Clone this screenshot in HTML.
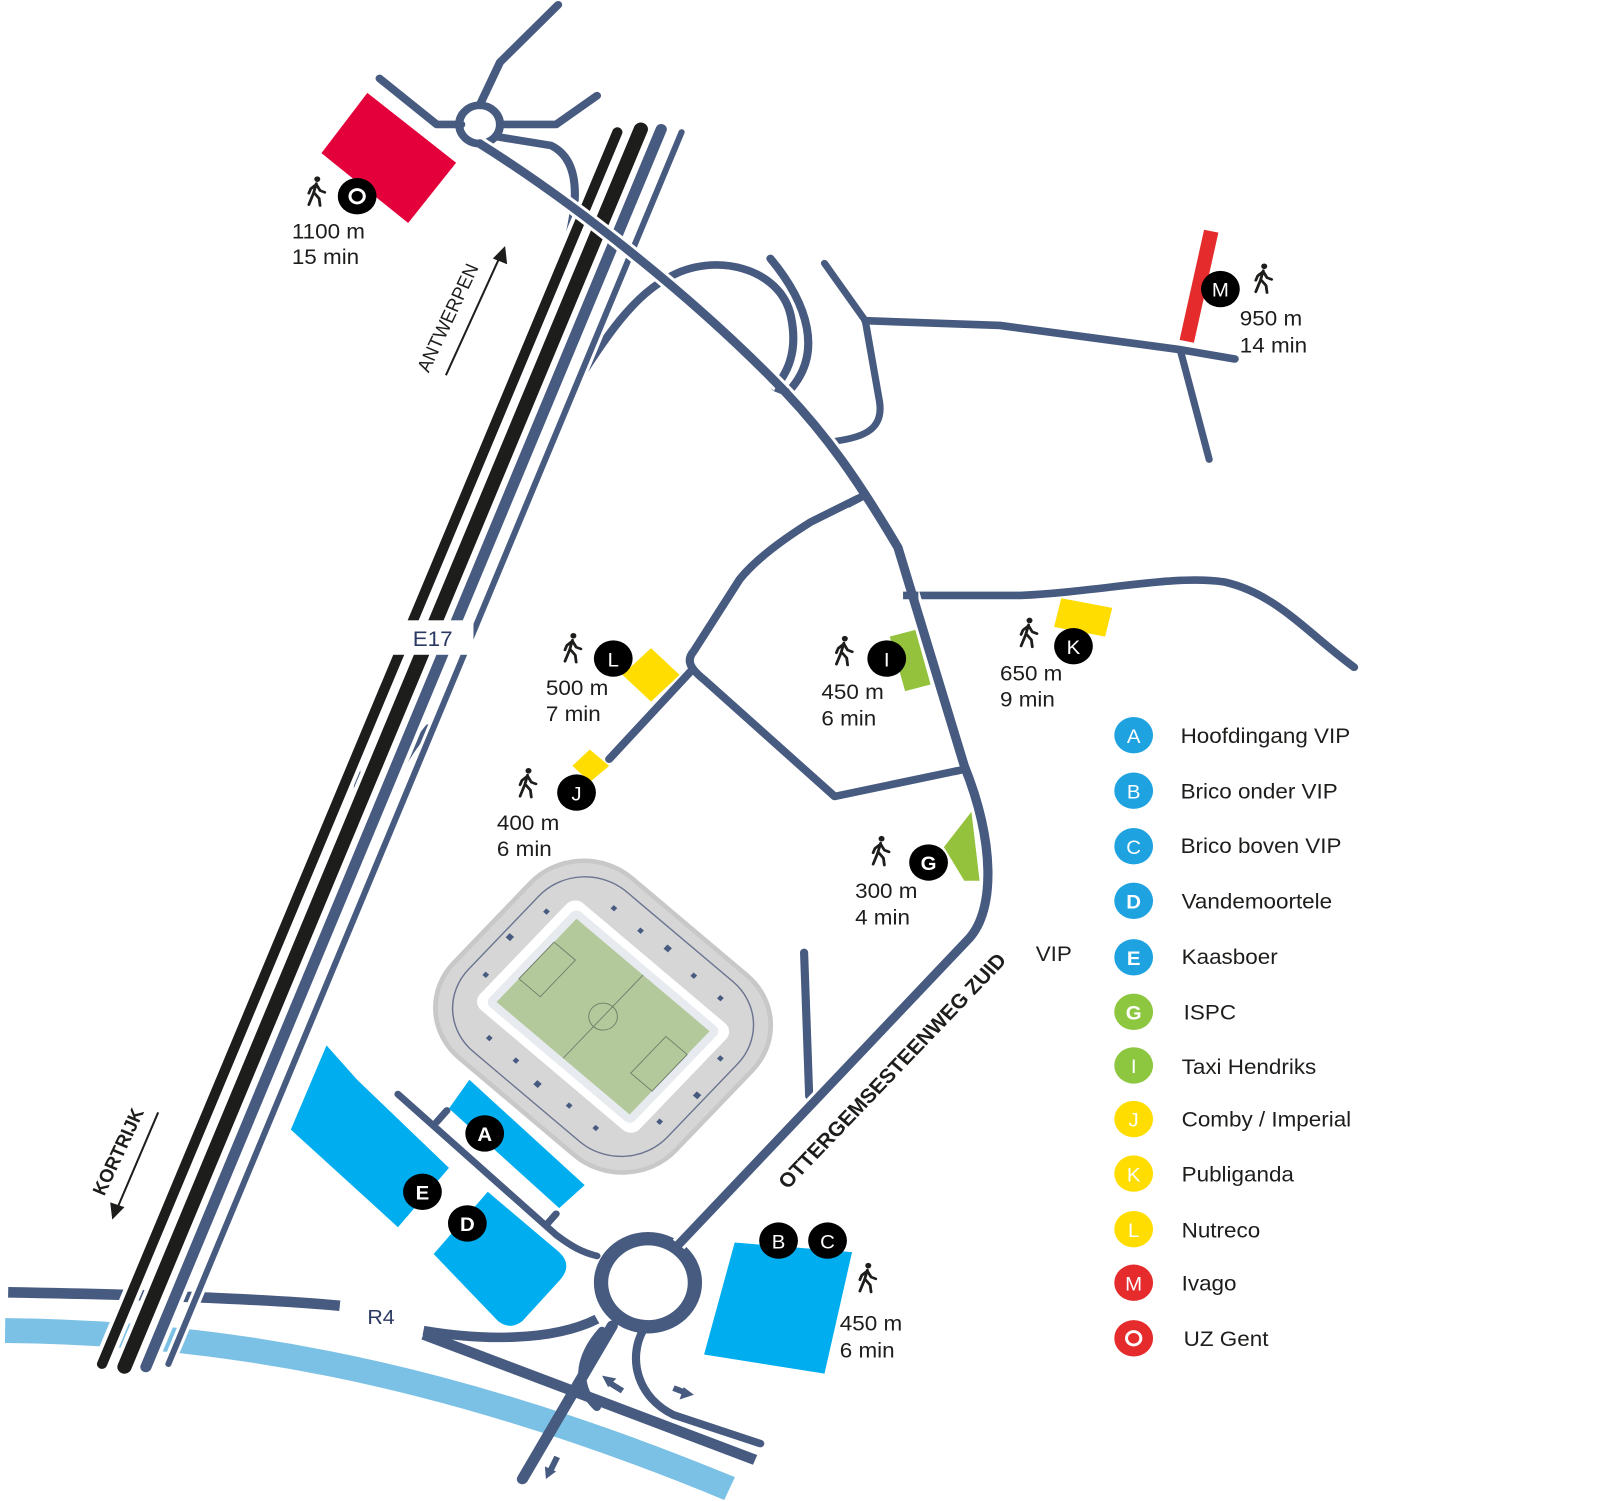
<!DOCTYPE html>
<html><head><meta charset="utf-8"><style>
html,body{margin:0;padding:0;background:#fff}
svg{display:block}
text{font-family:"Liberation Sans",sans-serif}
</style></head><body>
<svg width="1600" height="1501" viewBox="0 0 1568 1568" preserveAspectRatio="none" xmlns="http://www.w3.org/2000/svg">
<defs>
<symbol id="w" viewBox="0 0 24 36">
<circle cx="13" cy="4" r="3.2" fill="#1d1d1b"/>
<path d="M12 9 L9 20 L4 33 M10 20 L15 26 L16 34 M12 10 L6 15 L4 20 M12 10 L16 17 L21 19" stroke="#1d1d1b" stroke-width="3" fill="none" stroke-linecap="round" stroke-linejoin="round"/>
</symbol>
</defs>
<g fill="none" stroke="#475a80" stroke-linecap="round" stroke-linejoin="round">
<path d="M5,1390 C200,1392 420,1425 715,1555" stroke="#7ac1e5" stroke-width="26" stroke-linecap="butt"/>
<path d="M8,1350 C120,1352 250,1356 333,1364" stroke-width="11" stroke-linecap="butt"/>
<path d="M372,82 L428,130 L452,130" stroke-width="8"/>
<path d="M490,130 L545,130 L585,100" stroke-width="8"/>
<path d="M470,110 L490,65 L547,5" stroke-width="8"/>
<path d="M488,143 L540,152 C565,165 570,200 555,258" stroke-width="8"/>
<circle cx="470" cy="130" r="20" stroke-width="8"/>
<path d="M565,400 C595,350 620,310 655,290 C700,262 765,280 775,330 C783,370 770,390 760,405" stroke-width="8"/>
<path d="M755,270 C790,315 810,370 770,412" stroke-width="8"/>
<path d="M808,275 L848,335 L862,420 C866,450 845,458 810,462" stroke-width="7"/>
<path d="M848,335 L980,340 L1155,365 L1210,375" stroke-width="8"/>
<path d="M1157,367 L1185,480" stroke-width="7"/>
<path d="M848,517 L795,545 C765,565 740,585 725,605 L680,680 C672,690 676,698 690,710 L818,832 L948,803" stroke-width="8"/>
<path d="M678,700 L597,793" stroke-width="8"/>
<path d="M900,622 L1000,622 C1080,618 1150,600 1200,608 C1250,620 1280,660 1327,697" stroke-width="8"/>
<path d="M788,995 L793,1145" stroke-width="8"/>
<path d="M348,795 C355,830 345,860 338,880" stroke-width="7"/>
<path d="M420,760 C405,780 395,795 390,810" stroke-width="7"/>
<path d="M390,1143 L545,1290 C560,1302 570,1308 585,1312" stroke-width="7"/>
<path d="M428,1172 L438,1160 M535,1280 L545,1268" stroke-width="7"/>
<path d="M415,1390 C470,1400 540,1402 585,1378" stroke-width="10" stroke-linecap="butt"/>
<path d="M415,1394 L740,1525" stroke-width="11" stroke-linecap="butt"/>
<path d="M600,1385 L512,1545" stroke-width="11"/>
<path d="M590,1390 C565,1420 565,1450 585,1470" stroke-width="8"/>
<path d="M630,1390 C615,1420 625,1460 660,1478 L745,1508" stroke-width="8"/>
<circle cx="635" cy="1340" r="46" stroke-width="14"/>
<path d="M598,1445 L610,1453" stroke-width="6" stroke-linecap="butt"/>
<path d="M660,1450 L672,1455" stroke-width="6" stroke-linecap="butt"/>
<path d="M546,1522 L540,1535" stroke-width="6" stroke-linecap="butt"/>
</g>
<polygon points="590,1437 604,1440 596,1449" fill="#475a80"/>
<polygon points="680,1457 666,1462 670,1449" fill="#475a80"/>
<polygon points="535,1545 534,1532 545,1537" fill="#475a80"/>
<g fill="none" stroke-linecap="round">
<path d="M605,138 L100,1425" stroke="#fff" stroke-width="18"/>
<path d="M628,135 L122,1428" stroke="#fff" stroke-width="22"/>
<path d="M648,135 L143,1428" stroke="#fff" stroke-width="19"/>
<path d="M668,138 L165,1425" stroke="#fff" stroke-width="12"/>
<path d="M605,138 L100,1425" stroke="#1d1d1b" stroke-width="10"/>
<path d="M628,135 L122,1428" stroke="#1d1d1b" stroke-width="14"/>
<path d="M648,135 L143,1428" stroke="#475a80" stroke-width="11"/>
<path d="M668,138 L165,1425" stroke="#475a80" stroke-width="6"/>
</g>
<!-- main road on top -->
<path d="M470,150 C560,210 680,310 770,410 C810,455 840,500 880,572 L945,800 C975,880 975,950 950,980 L665,1300" fill="none" stroke="#fff" stroke-width="15" stroke-linejoin="round"/>
<path d="M470,150 C560,210 680,310 770,410 C810,455 840,500 880,572 L945,800 C975,880 975,950 950,980 L665,1300" fill="none" stroke="#475a80" stroke-width="9" stroke-linejoin="round" stroke-linecap="round"/>
<path d="M848,517 L830,527 M900,622 L885,622 M948,803 L935,806 M772,410 L760,405" stroke="#475a80" stroke-width="8" fill="none"/>
<rect x="384" y="648" width="80" height="36" fill="#fff"/>
<text x="424" y="675" font-size="22" fill="#2b3a63" text-anchor="middle">E17</text>
<polygon points="360,97 447,170 400,233 315,160" fill="#e4003b"/>
<polygon points="1180,240 1194,243 1170,358 1156,355" fill="#e52b2b"/>
<polygon points="320,1092 350,1128 440,1220 390,1282 285,1180" fill="#00aeef"/>
<polygon points="460,1128 573,1238 548,1262 440,1158" fill="#00aeef"/>
<path d="M478,1245 L548,1308 Q562,1322 548,1338 L512,1380 Q500,1390 488,1380 L425,1310 Z" fill="#00aeef"/>
<polygon points="720,1298 835,1308 808,1435 690,1415" fill="#00aeef"/>
<polygon points="638,677 666,705 638,733 610,705" fill="#ffdd00"/>
<polygon points="578,783 597,800 578,817 561,800" fill="#ffdd00"/>
<polygon points="1040,625 1090,635 1083,665 1033,655" fill="#ffdd00"/>
<polygon points="872,665 897,658 912,715 887,722" fill="#95c23d"/>
<polygon points="952,848 960,920 945,920 925,885" fill="#95c23d"/>
<g transform="translate(591,1062) rotate(42) scale(1.17)">
<rect x="-125" y="-108" width="250" height="216" rx="60" fill="#d6d6d6" stroke="#c8c8c8" stroke-width="4"/>
<rect x="-112" y="-96" width="224" height="192" rx="52" fill="none" stroke="#6a7390" stroke-width="1.2"/>
<rect x="-90" y="-64" width="180" height="128" rx="10" fill="#fff"/>
<rect x="-82" y="-57" width="164" height="114" rx="6" fill="#e7eaee"/>
<rect x="-75" y="-50" width="150" height="100" fill="#b3c99b"/>
<g stroke="#6f7f6a" stroke-width="0.8" fill="none">
<line x1="0" y1="-50" x2="0" y2="50"/><circle r="12"/>
<rect x="-75" y="-22" width="24" height="44"/><rect x="51" y="-22" width="24" height="44"/>
</g>
<g fill="#475a80">
<rect x="-3" y="-84" width="5" height="5"/><rect x="-3" y="79" width="5" height="5"/>
<rect x="-108" y="-3" width="5" height="5"/><rect x="103" y="-3" width="5" height="5"/>
<rect x="-60" y="-80" width="4" height="4"/><rect x="-30" y="-80" width="4" height="4"/><rect x="30" y="-80" width="4" height="4"/><rect x="60" y="-80" width="4" height="4"/>
<rect x="-60" y="76" width="4" height="4"/><rect x="-30" y="76" width="4" height="4"/><rect x="30" y="76" width="4" height="4"/><rect x="60" y="76" width="4" height="4"/>
<rect x="-100" y="-40" width="4" height="4"/><rect x="-100" y="36" width="4" height="4"/><rect x="96" y="-40" width="4" height="4"/><rect x="96" y="36" width="4" height="4"/>
</g>
</g>
<g font-size="20" font-weight="bold" fill="#fff" text-anchor="middle">
<circle cx="350" cy="205" r="19" fill="#000"/><circle cx="350" cy="205" r="7" fill="none" stroke="#fff" stroke-width="3"/>
<circle cx="1196" cy="302" r="19" fill="#000"/><text x="1196" y="310" font-weight="normal">M</text>
<circle cx="601" cy="688" r="19" fill="#000"/><text x="601" y="696" font-weight="normal">L</text>
<circle cx="565" cy="828" r="19" fill="#000"/><text x="565" y="836" font-weight="normal">J</text>
<circle cx="869" cy="688" r="19" fill="#000"/><text x="869" y="696" font-weight="normal">I</text>
<circle cx="1052" cy="675" r="19" fill="#000"/><text x="1052" y="683" font-weight="normal">K</text>
<circle cx="910" cy="901" r="19" fill="#000"/><text x="910" y="909">G</text>
<circle cx="475" cy="1184" r="19" fill="#000"/><text x="475" y="1192">A</text>
<circle cx="414" cy="1245" r="19" fill="#000"/><text x="414" y="1253">E</text>
<circle cx="458" cy="1278" r="19" fill="#000"/><text x="458" y="1286">D</text>
<circle cx="763" cy="1296" r="19" fill="#000"/><text x="763" y="1304" font-weight="normal">B</text>
<circle cx="811" cy="1296" r="19" fill="#000"/><text x="811" y="1304" font-weight="normal">C</text>
</g>
<use href="#w" x="299" y="183" width="22" height="34"/>
<use href="#w" x="1227" y="274" width="22" height="34"/>
<use href="#w" x="550" y="660" width="22" height="34"/>
<use href="#w" x="506" y="801" width="22" height="34"/>
<use href="#w" x="816" y="663" width="22" height="34"/>
<use href="#w" x="997" y="644" width="22" height="34"/>
<use href="#w" x="852" y="872" width="22" height="34"/>
<use href="#w" x="839" y="1318" width="22" height="34"/>
<g font-size="22" fill="#1d1d1b">
<text x="286" y="249">1100 m</text><text x="286" y="276">15 min</text>
<text x="1215" y="340">950 m</text><text x="1215" y="368">14 min</text>
<text x="535" y="726">500 m</text><text x="535" y="753">7 min</text>
<text x="487" y="867">400 m</text><text x="487" y="894">6 min</text>
<text x="805" y="730">450 m</text><text x="805" y="758">6 min</text>
<text x="980" y="711">650 m</text><text x="980" y="738">9 min</text>
<text x="838" y="938">300 m</text><text x="838" y="966">4 min</text>
<text x="823" y="1390">450 m</text><text x="823" y="1418">6 min</text>
<text x="1015" y="1004">VIP</text>
</g>
<text x="360" y="1383" font-size="21" fill="#2b3a63">R4</text>
<text transform="translate(420,390) rotate(-66)" font-size="19" fill="#1d1d1b">ANTWERPEN</text>
<path d="M437,392 L490,268" stroke="#1d1d1b" stroke-width="2"/><polygon points="495,257 497,276 483,270" fill="#1d1d1b"/>
<text transform="translate(102,1250) rotate(-66)" font-size="19" font-weight="bold" fill="#1d1d1b">KORTRIJK</text>
<path d="M155,1162 L115,1262" stroke="#1d1d1b" stroke-width="2"/><polygon points="110,1274 108,1256 122,1261" fill="#1d1d1b"/>
<text transform="translate(772,1243) rotate(-48)" font-size="21" font-weight="bold" fill="#1d1d1b">OTTERGEMSESTEENWEG ZUID</text>
<g font-size="22" fill="#1d1d1b">
<g text-anchor="middle" fill="#fff" font-size="20">
<circle cx="1111" cy="768" r="19" fill="#1ea2e0"/><text x="1111" y="776">A</text>
<circle cx="1111" cy="826" r="19" fill="#1ea2e0"/><text x="1111" y="834">B</text>
<circle cx="1111" cy="884" r="19" fill="#1ea2e0"/><text x="1111" y="892">C</text>
<circle cx="1111" cy="941" r="19" fill="#1ea2e0"/><text x="1111" y="949" font-weight="bold">D</text>
<circle cx="1111" cy="1000" r="19" fill="#1ea2e0"/><text x="1111" y="1008" font-weight="bold">E</text>
<circle cx="1111" cy="1057" r="19" fill="#8dc63f"/><text x="1111" y="1065" font-weight="bold">G</text>
<circle cx="1111" cy="1113" r="19" fill="#8dc63f"/><text x="1111" y="1121">I</text>
<circle cx="1111" cy="1169" r="19" fill="#ffdd00"/><text x="1111" y="1177">J</text>
<circle cx="1111" cy="1226" r="19" fill="#ffdd00"/><text x="1111" y="1234">K</text>
<circle cx="1111" cy="1284" r="19" fill="#ffdd00"/><text x="1111" y="1292">L</text>
<circle cx="1111" cy="1340" r="19" fill="#e52b2b"/><text x="1111" y="1348">M</text>
<circle cx="1111" cy="1398" r="19" fill="#e52b2b"/><circle cx="1111" cy="1398" r="7" fill="none" stroke="#fff" stroke-width="3"/>
</g>
<text x="1157" y="776">Hoofdingang VIP</text>
<text x="1157" y="834">Brico onder VIP</text>
<text x="1157" y="891">Brico boven VIP</text>
<text x="1158" y="949">Vandemoortele</text>
<text x="1158" y="1007">Kaasboer</text>
<text x="1160" y="1065">ISPC</text>
<text x="1158" y="1122">Taxi Hendriks</text>
<text x="1158" y="1177">Comby / Imperial</text>
<text x="1158" y="1234">Publiganda</text>
<text x="1158" y="1293">Nutreco</text>
<text x="1158" y="1348">Ivago</text>
<text x="1160" y="1406">UZ Gent</text>
</g>
</svg>
</body></html>
